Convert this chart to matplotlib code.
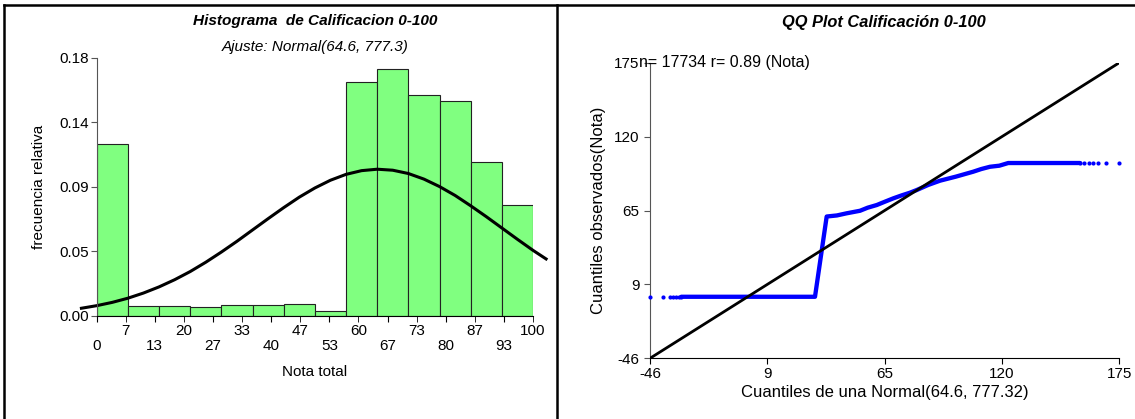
import matplotlib
matplotlib.use("Agg")
import matplotlib.pyplot as plt
from matplotlib.lines import Line2D
import numpy as np

plt.rcParams['font.family'] = ['Liberation Sans', 'DejaVu Sans']
plt.rcParams['font.size'] = 11

# histogram of grades, 14 bins over 0-100
n_bins = 14
rel_freq = [0.120, 0.0066, 0.0066, 0.0061, 0.0077, 0.0077, 0.0084, 0.0033,
            0.163, 0.172, 0.154, 0.150, 0.107, 0.077]

# fitted normal curve, Normal(64.6, 777.3) scaled to bin width
norm_x = [-3.5, 0, 3.57, 7.14, 10.71, 14.29, 17.86, 21.43, 25, 28.57, 32.14,
          35.71, 39.29, 42.86, 46.43, 50, 53.57, 57.14, 60.71, 64.29, 67.86,
          71.43, 75, 78.57, 82.14, 85.71, 89.29, 92.86, 96.43, 100, 103]
norm_y = [0.0052, 0.0070, 0.0093, 0.0122, 0.0158, 0.0201, 0.0251, 0.0308,
          0.0373, 0.0444, 0.0519, 0.0598, 0.0677, 0.0754, 0.0827, 0.0891,
          0.0945, 0.0986, 0.1012, 0.1022, 0.1015, 0.0992, 0.0953, 0.0901,
          0.0839, 0.0767, 0.0691, 0.0612, 0.0533, 0.0456, 0.0396]

hist_tick_labels = ["0", "7", "13", "20", "27", "33", "40", "47",
                    "53", "60", "67", "73", "80", "87", "93", "100"]
hist_ytick_labels = ["0.00", "0.05", "0.09", "0.14", "0.18"]

# QQ plot points (theoretical quantile, observed quantile)
qq_lo_x = [-46.0, -40.0, -36.6, -35.0, -33.8, -32.5, -31.3]
qq_lo_y = [0, 0, 0, 0, 0, 0, 0]
qq_body_x = [-31.3, 31.7, 37.2, 42.0, 46.6, 52.9, 56.5, 60.8, 64.5, 68.6,
             72.5, 76.4, 79.6, 85.0, 90.6, 98.0, 106.2, 110.0, 114.1, 118.5,
             122.7, 156.5]
qq_body_y = [0, 0, 60, 60.8, 62.4, 64.3, 66.6, 68.6, 71.0, 73.6,
             75.8, 77.8, 79.8, 83.6, 86.8, 89.8, 93.5, 95.5, 97.2, 98.0,
             100, 100]
qq_hi_x = [156.5, 158.4, 160.7, 162.7, 165.1, 168.6, 174.9]
qq_hi_y = [100, 100, 100, 100, 100, 100, 100]
qq_tick_labels = ["-46", "9", "65", "120", "175"]

fig = plt.figure(figsize=(11.35, 4.19), dpi=100)

# ---- histogram ----
ax1 = fig.add_axes([96.7 / 1135, 1 - 315.7 / 419, (533 - 96.7) / 1135, (315.7 - 57.7) / 419])
edges = np.linspace(0, 100, n_bins + 1)
ax1.bar(edges[:-1], rel_freq, width=np.diff(edges), align='edge',
        color='#80ff80', edgecolor='#222222', linewidth=0.8)
ax1.plot(norm_x, norm_y, color='black', lw=2.2, clip_on=False)
ax1.set_xlim(0, 100)
ax1.set_ylim(0, 0.18)
ticks = np.linspace(0, 100, 16)
ax1.set_xticks(ticks[0::2])
ax1.set_xticklabels(hist_tick_labels[0::2])
ax1.set_xticks(ticks[1::2], minor=True)
ax1.set_xticklabels(hist_tick_labels[1::2], minor=True)
ax1.tick_params(axis='x', which='major', length=4, pad=13.0, labelsize=11)
ax1.tick_params(axis='x', which='minor', length=4, pad=1.8, labelsize=11)
ax1.set_yticks(np.linspace(0, 0.18, 5))
ax1.set_yticklabels(hist_ytick_labels)
ax1.tick_params(axis='y', length=4, pad=1.5, labelsize=11, color='#555555')
for s in ['top', 'right']:
    ax1.spines[s].set_visible(False)
ax1.spines['left'].set_color('#555555')
ax1.set_xlabel("Nota total", fontsize=11, labelpad=8.5)
ax1.set_ylabel("frecuencia relativa", fontsize=11, labelpad=10)
fig.text(315 / 1135, 1 - 21 / 419, "Histograma  de Calificacion 0-100",
         ha='center', va='center', fontsize=11.1, fontweight='bold', style='italic')
fig.text(315 / 1135, 1 - 47 / 419, "Ajuste: Normal(64.6, 777.3)",
         ha='center', va='center', fontsize=11, style='italic')

# ---- QQ plot ----
ax2 = fig.add_axes([650 / 1135, 1 - 358.3 / 419, (1119.3 - 650) / 1135, (358.3 - 62.7) / 419])
ax2.plot([-46, 175], [-46, 175], color='black', lw=2.0, zorder=3)
ax2.plot(qq_body_x, qq_body_y, color='#0000ff', lw=3.1, solid_capstyle='round',
         solid_joinstyle='round', zorder=2)
ax2.plot(qq_lo_x, qq_lo_y, 'o', color='#0000ff', ms=3.0, mew=0, clip_on=False, zorder=4)
ax2.plot(qq_hi_x, qq_hi_y, 'o', color='#0000ff', ms=3.0, mew=0, clip_on=False, zorder=4)
ax2.set_xlim(-46, 175)
ax2.set_ylim(-46, 175)
qt = np.linspace(-46, 175, 5)
ax2.set_xticks(qt)
ax2.set_xticklabels(qq_tick_labels)
ax2.set_yticks(qt)
ax2.set_yticklabels(qq_tick_labels)
ax2.tick_params(axis='x', length=4, pad=2.5, labelsize=11)
ax2.tick_params(axis='y', length=4, pad=3.5, labelsize=11, color='#555555')
for s in ['top', 'right']:
    ax2.spines[s].set_visible(False)
ax2.spines['left'].set_color('#555555')
ax2.set_xlabel("Cuantiles de una Normal(64.6, 777.32)", fontsize=12, labelpad=3)
ax2.set_ylabel("Cuantiles observados(Nota)", fontsize=12, labelpad=6)
ax2.text(639 / 1135, 1 - 62 / 419, "n= 17734 r= 0.89 (Nota)", transform=fig.transFigure,
         ha='left', va='center', fontsize=11.5)
fig.text(884 / 1135, 1 - 22 / 419, "QQ Plot Calificación 0-100",
         ha='center', va='center', fontsize=11.8, fontweight='bold', style='italic')

# ---- frame ----
fig.add_artist(Line2D([0.0035, 1.0], [1 - 5 / 419, 1 - 5 / 419], color='black', lw=1.8,
                      transform=fig.transFigure))
fig.add_artist(Line2D([0.0035, 0.0035], [0, 1 - 5 / 419], color='black', lw=1.8,
                      transform=fig.transFigure))
fig.add_artist(Line2D([556.5 / 1135, 556.5 / 1135], [0, 1 - 5 / 419], color='black', lw=1.8,
                      transform=fig.transFigure))

fig.savefig("out.png", dpi=100)
